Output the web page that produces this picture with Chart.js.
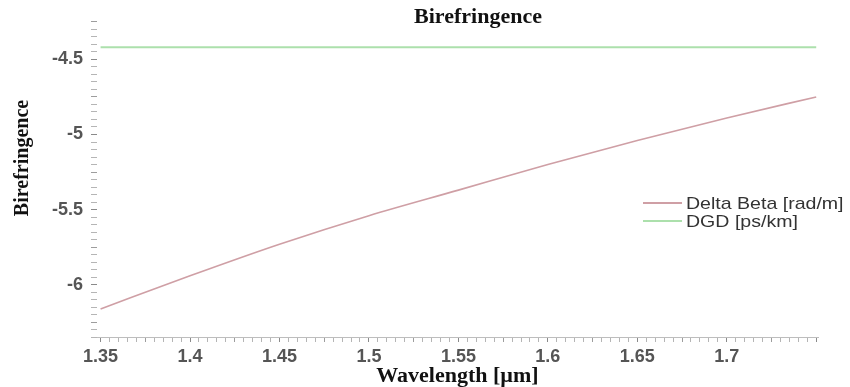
<!DOCTYPE html>
<html>
<head>
<meta charset="utf-8">
<script src="https://cdn.jsdelivr.net/npm/chart.js@4.4.1/dist/chart.umd.min.js"></script>
<style>
  html, body { margin: 0; padding: 0; background: #ffffff; }
  #wrap { width: 850px; height: 387px; position: relative; }
</style>
</head>
<body>
<div id="wrap"><canvas id="c" width="850" height="387"></canvas></div>
<script>
// Wavelength samples (µm) and the two birefringence curves
const wavelength = [1.35, 1.40, 1.45, 1.50, 1.55, 1.60, 1.65, 1.70, 1.75];
const deltaBeta  = [-6.16, -5.94, -5.73, -5.54, -5.37, -5.20, -5.04, -4.89, -4.75];
const dgd        = [-4.42, -4.42, -4.42, -4.42, -4.42, -4.42, -4.42, -4.42, -4.42];

const seriesLabels = ['Delta Beta [rad/m]', 'DGD [ps/km]'];
const xTickLabels = ['1.35', '1.4', '1.45', '1.5', '1.55', '1.6', '1.65', '1.7'];
const yTickLabels = ['-4.5', '-5', '-5.5', '-6'];

const chartTitle = 'Birefringence';
const xTitle = 'Wavelength [\u00b5m]';
const yTitle = 'Birefringence';

const colors = { deltaBeta: '#cf9fa5', dgd: '#ace0ac' };

function near(a, b) { return Math.abs(a - b) < 1e-6; }
function labelFor(list, v) {
  const hit = list.find(s => near(Number(s), v));
  return hit === undefined ? '' : hit;
}

// minor tick positions: x every 0.005, y every 0.05
const xTickValues = [];
for (let i = 270; i <= 350; i++) xTickValues.push(i / 200);
const yTickValues = [];
for (let i = -127; i <= -85; i++) yTickValues.push(i / 20);

function tickShade(v, major, half) {
  const r = Math.round(v / major * 1000) / 1000;
  if (Math.abs(r - Math.round(r)) < 1e-6) return '#8a8a8a';
  const h = Math.round(v / half * 1000) / 1000;
  if (Math.abs(h - Math.round(h)) < 1e-6) return '#9d9d9d';
  return '#b5b5b5';
}

// horizontally widened text, centred or left-aligned at (x, y)
function wideText(ctx, text, x, y, sx, align) {
  ctx.save();
  ctx.translate(x, y);
  ctx.scale(sx, 1);
  ctx.textAlign = align;
  ctx.fillText(text, 0, 0);
  ctx.restore();
}

const textPlugin = {
  id: 'texts',
  afterDraw(chart) {
    const ctx = chart.ctx;
    const area = chart.chartArea;
    ctx.save();
    ctx.fillStyle = '#111111';
    ctx.textBaseline = 'middle';
    ctx.font = 'bold 20px "Liberation Serif", "Times New Roman", serif';
    wideText(ctx, chartTitle, 478, 18, 1.1, 'center');
    wideText(ctx, xTitle, (area.left + area.right) / 2, 377, 1.1, 'center');
    ctx.translate(23, 158);
    ctx.rotate(-Math.PI / 2);
    ctx.textAlign = 'center';
    ctx.fillText(yTitle, 0, 0);
    ctx.restore();

    // legend inside the plot area
    ctx.save();
    ctx.font = '17px "Liberation Sans", Arial, sans-serif';
    ctx.textBaseline = 'middle';
    const rows = [203, 221];
    chart.data.datasets.forEach((ds, i) => {
      const y = rows[i];
      ctx.strokeStyle = ds.borderColor;
      ctx.lineWidth = 2;
      ctx.beginPath();
      ctx.moveTo(643, y);
      ctx.lineTo(682, y);
      ctx.stroke();
      ctx.fillStyle = '#333333';
      wideText(ctx, ds.label, 686, y + 1, 1.15, 'left');
    });
    ctx.restore();
  }
};

new Chart(document.getElementById('c'), {
  type: 'line',
  data: {
    datasets: [
      {
        label: seriesLabels[0],
        data: wavelength.map((w, i) => ({ x: w, y: deltaBeta[i] })),
        borderColor: colors.deltaBeta,
        borderWidth: 1.6,
        pointRadius: 0,
        cubicInterpolationMode: 'monotone'
      },
      {
        label: seriesLabels[1],
        data: wavelength.map((w, i) => ({ x: w, y: dgd[i] })),
        borderColor: colors.dgd,
        borderWidth: 2,
        pointRadius: 0
      }
    ]
  },
  options: {
    responsive: false,
    animation: false,
    layout: { padding: { left: 0, right: 32, top: 21, bottom: 0 } },
    plugins: {
      legend: { display: false },
      title: { display: false },
      tooltip: { enabled: false }
    },
    scales: {
      x: {
        type: 'linear',
        min: 1.348,
        max: 1.751,
        afterFit(s) { s.height = 50; },
        afterBuildTicks(s) { s.ticks = xTickValues.map(v => ({ value: v })); },
        border: { display: true, color: '#bdbdbd', width: 1 },
        grid: {
          drawOnChartArea: false,
          drawTicks: true,
          tickLength: 5,
          tickColor: c => tickShade(c.tick ? c.tick.value : 0, 0.05, 0.025)
        },
        ticks: {
          autoSkip: false,
          maxRotation: 0,
          padding: 4,
          color: '#555555',
          font: { family: '"Liberation Sans", Arial, sans-serif', size: 18, weight: 'bold' },
          callback: v => labelFor(xTickLabels, v)
        }
      },
      y: {
        type: 'linear',
        min: -6.347,
        max: -4.245,
        afterFit(s) { s.width = 97; },
        afterBuildTicks(s) { s.ticks = yTickValues.map(v => ({ value: v })); },
        border: { display: false },
        grid: {
          drawOnChartArea: false,
          drawTicks: true,
          tickLength: 6,
          tickColor: c => tickShade(c.tick ? c.tick.value : 0, 0.5, 0.25)
        },
        ticks: {
          autoSkip: false,
          padding: 8,
          color: '#555555',
          font: { family: '"Liberation Sans", Arial, sans-serif', size: 18, weight: 'bold' },
          callback: v => labelFor(yTickLabels, v)
        }
      }
    }
  },
  plugins: [textPlugin]
});
</script>
</body>
</html>
